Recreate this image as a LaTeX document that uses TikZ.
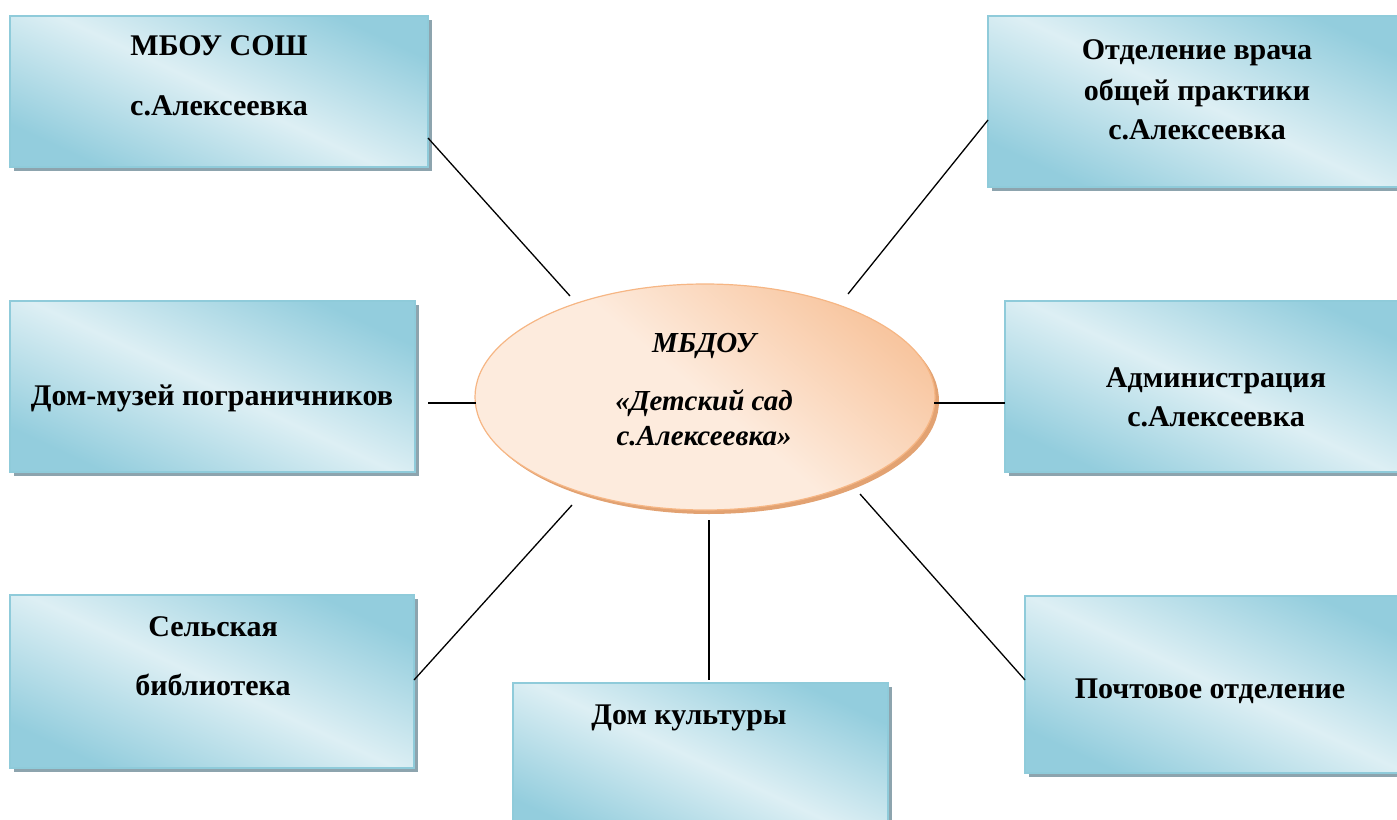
\documentclass[tikz,border=0pt]{standalone}
\usepackage{fontspec}
\setmainfont{Liberation Serif}
\usetikzlibrary{shapes.geometric}
\definecolor{boxdark}{HTML}{93CDDD}
\definecolor{boxlight}{HTML}{DDEFF4}
\definecolor{boxedge}{HTML}{8FCBDA}
\definecolor{boxshadow}{HTML}{8DA4AE}
\definecolor{ovlight}{HTML}{FDEBDD}
\definecolor{ovdark}{HTML}{F8C6A0}
\definecolor{ovedge}{HTML}{F6B684}
\definecolor{ovshadow}{HTML}{E2A272}
\tikzset{
  panel/.style={draw=boxedge, line width=1.2pt, shading=axis, top color=boxdark,
    bottom color=boxdark, middle color=boxlight, shading angle=-25,
    inner sep=0pt, outer sep=0pt},
  pshadow/.style={fill=boxshadow},
  oval/.style={ellipse, draw=ovedge, line width=1.2pt, shading=axis,
    top color=ovdark, bottom color=ovlight, middle color=ovlight, shading angle=-40, inner sep=0pt},
  lbl/.style={font=\fontsize{30}{41}\selectfont\bfseries, inner sep=0pt, anchor=base},
  olbl/.style={font=\fontsize{29}{41}\selectfont\bfseries\itshape, inner sep=0pt, anchor=base},
  link/.style={line width=1.3pt, black},
}
\newcommand\mkpanel[5]{%
  \fill[pshadow] (#2+4,#3+4) rectangle (#4+4,#5+4);
  \node[panel, minimum width={(#4-#2)*1pt}, minimum height={(#5-#3)*1pt}] (#1)
    at ({(#2+#4)/2},{(#3+#5)/2}) {};
}
\begin{document}
\begin{tikzpicture}[x=1pt,y=-1pt]
\useasboundingbox (0,0) rectangle (1397,819);
\clip (0,0) rectangle (1397,819);
% connectors
\coordinate (c1a) at (428,138); \coordinate (c1b) at (570,296);
\coordinate (c2a) at (988,120); \coordinate (c2b) at (848,294);
\coordinate (c3a) at (428,403); \coordinate (c3b) at (476,403);
\coordinate (c4a) at (934,403); \coordinate (c4b) at (1005,403);
\coordinate (c5a) at (414,680); \coordinate (c5b) at (572,505);
\coordinate (c6a) at (860,494); \coordinate (c6b) at (1025,680);
\coordinate (c7a) at (709,520); \coordinate (c7b) at (709,680);
% panels
\mkpanel{b1}{10}{16}{428}{167}
\mkpanel{b2}{988}{16}{1410}{187}
\mkpanel{b3}{10}{301}{415}{472}
\mkpanel{b4}{1005}{301}{1410}{472}
\mkpanel{b5}{10}{595}{414}{768}
\mkpanel{b6}{1025}{596}{1410}{773}
\mkpanel{b7}{513}{683}{888}{840}
% center oval
\fill[ovshadow] (709,401) ellipse [x radius=230pt, y radius=113pt];
\node[oval, minimum width=460pt, minimum height=226pt] (ov) at (705,397) {};
% links
\draw[link] (c1a) -- (c1b);
\draw[link] (c2a) -- (c2b);
\draw[link] (c3a) -- (c3b);
\draw[link] (c4a) -- (c4b);
\draw[link] (c5a) -- (c5b);
\draw[link] (c6a) -- (c6b);
\draw[link] (c7a) -- (c7b);
% labels
\node[lbl] (t1a) at (219,55) {МБОУ СОШ};
\node[lbl] (t1b) at (219,115) {с.Алексеевка};
\node[lbl] (t2a) at (1197,59) {Отделение врача};
\node[lbl] (t2b) at (1197,100) {общей практики};
\node[lbl] (t2c) at (1197,139) {с.Алексеевка};
\node[lbl] (t3) at (212,405) {Дом-музей пограничников};
\node[lbl] (t4a) at (1216,387) {Администрация};
\node[lbl] (t4b) at (1216,426) {с.Алексеевка};
\node[lbl] (t5a) at (213,636) {Сельская};
\node[lbl] (t5b) at (213,695) {библиотека};
\node[lbl] (t6) at (1210,698) {Почтовое отделение};
\node[lbl] (t7) at (689,724) {Дом культуры};
\node[olbl] (o1) at (704,352) {МБДОУ};
\node[olbl] (o2) at (704,410) {«Детский сад};
\node[olbl] (o3) at (704,445) {с.Алексеевка»};
\end{tikzpicture}
\end{document}
